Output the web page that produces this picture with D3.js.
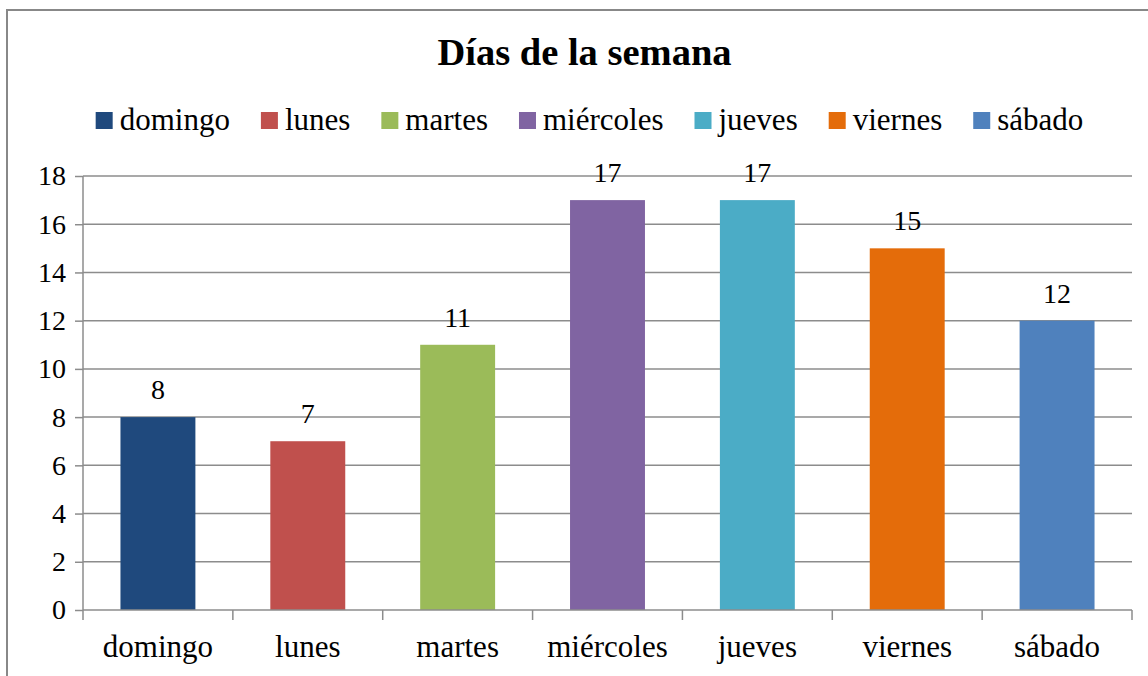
<!DOCTYPE html>
<html><head><meta charset="utf-8">
<script src="https://cdn.jsdelivr.net/npm/d3@7"></script>
<style>body{margin:0;background:#fff}svg{display:block}text{font-family:"Liberation Serif","Times New Roman",serif}</style>
</head><body>
<svg id="c" width="1148" height="676"></svg>
<script>
const categories = ["domingo","lunes","martes","miércoles","jueves","viernes","sábado"];
const values = [8,7,11,17,17,15,12];
const colors = ["#1F497D","#C0504D","#9BBB59","#8064A2","#4BACC6","#E46C0A","#4F81BD"];
const yTicks = [0,2,4,6,8,10,12,14,16,18];
const title = "Días de la semana";

(function(){
const svg = d3.select("#c");
svg.append("rect").attr("x",7).attr("y",10).attr("width",1160).attr("height",700)
  .attr("fill","#fff").attr("stroke","#888").attr("stroke-width",2);

const pL=83, pR=1132, pT=176, pB=610;
const x = d3.scaleBand().domain(categories).range([pL,pR]).paddingInner(0.5).paddingOuter(0.25);
const y = d3.scaleLinear().domain([0,18]).range([pB,pT]);

svg.append("g").selectAll("line").data(yTicks.filter(d=>d>0)).join("line")
  .attr("x1",pL).attr("x2",pR).attr("y1",d=>y(d)).attr("y2",d=>y(d))
  .attr("stroke","#8c8c8c").attr("stroke-width",1.5);

const ya = svg.append("g").attr("transform",`translate(${pL},0)`)
  .call(d3.axisLeft(y).tickValues(yTicks).tickSize(8).tickPadding(9));
ya.select(".domain").attr("stroke","#8c8c8c").attr("stroke-width",1.5).attr("d",`M0,${pT}V${pB}`);
ya.selectAll(".tick line").attr("stroke","#8c8c8c").attr("stroke-width",1.5);
ya.selectAll(".tick text").attr("font-size",28).attr("fill","#000").attr("font-family","Liberation Serif");

svg.append("g").selectAll("rect").data(values).join("rect")
  .attr("x",(d,i)=>x(categories[i])).attr("width",x.bandwidth())
  .attr("y",d=>y(d)).attr("height",d=>y(0)-y(d)).attr("fill",(d,i)=>colors[i]);

const step = (pR-pL)/categories.length;
const xa = svg.append("g");
xa.append("line").attr("x1",pL).attr("x2",pR).attr("y1",pB).attr("y2",pB)
  .attr("stroke","#8c8c8c").attr("stroke-width",1.5);
xa.selectAll("line.t").data(d3.range(categories.length+1)).join("line").attr("class","t")
  .attr("x1",i=>pL+i*step).attr("x2",i=>pL+i*step).attr("y1",pB).attr("y2",pB+10)
  .attr("stroke","#8c8c8c").attr("stroke-width",1.5);
xa.selectAll("text").data(categories).join("text")
  .attr("x",d=>x(d)+x.bandwidth()/2).attr("y",657).attr("text-anchor","middle")
  .attr("font-size",31).text(d=>d);

svg.append("g").selectAll("text").data(values).join("text")
  .attr("x",(d,i)=>x(categories[i])+x.bandwidth()/2).attr("y",d=>y(d)-18)
  .attr("text-anchor","middle").attr("font-size",28).text(d=>d);

svg.append("text").attr("x",584.5).attr("y",65).attr("text-anchor","middle")
  .attr("font-size",38.5).attr("font-weight","bold").text(title);

const lg = svg.append("g");
let cx = 0;
categories.forEach((c,i)=>{
  const g = lg.append("g");
  g.append("rect").attr("x",0).attr("y",-18).attr("width",17).attr("height",17).attr("fill",colors[i]);
  const t = g.append("text").attr("x",24).attr("y",0).attr("font-size",31).text(c);
  const w = 24 + t.node().getComputedTextLength();
  g.attr("transform",`translate(${cx},0)`);
  cx += w + 31;
});
const total = cx - 31;
lg.attr("transform",`translate(${589.5 - total/2},130)`);
})();
</script>
</body></html>
